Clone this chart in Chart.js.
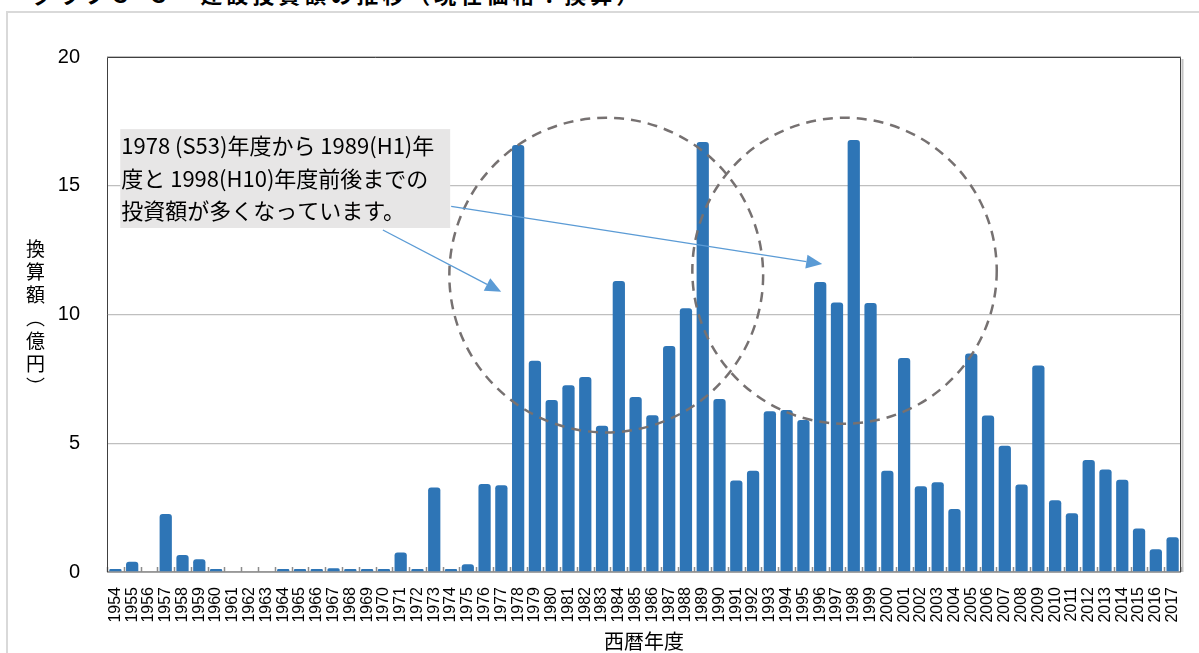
<!DOCTYPE html>
<html lang="ja">
<head>
<meta charset="utf-8">
<script src="https://cdn.jsdelivr.net/npm/chart.js@4.4.1/dist/chart.umd.min.js"></script>
<style>
    html, body { margin: 0; padding: 0; background: #fff; overflow: hidden; }
    body { width: 1199px; height: 653px; position: relative; }
    .frame { position: absolute; left: 6px; top: 11px; width: 1300px; height: 700px; border: 2px solid #d9d9d9; box-sizing: border-box; }
    .page-title { position: absolute; left: 32px; top: -23px; font: bold 22px "Noto Sans CJK JP", sans-serif; letter-spacing: 4px; color: #000; white-space: nowrap; }
    .y-title { position: absolute; left: 26px; top: 239px; writing-mode: vertical-rl; text-orientation: upright; font: 19px "Noto Sans CJK JP", sans-serif; color: #000; letter-spacing: 4px; line-height: 1; }
    #chart { position: absolute; left: 0; top: 0; }
</style>
</head>
<body>
<div class="page-title">グラフ３-３　建設投資額の推移（現在価格：換算）</div>
<div class="frame"></div>
<canvas id="chart" width="1199" height="653"></canvas>
<div class="y-title">換算額︵億円︶</div>

<script>
// 西暦年度
const years = [
    '1954', '1955', '1956', '1957', '1958', '1959', '1960', '1961', '1962', '1963',
    '1964', '1965', '1966', '1967', '1968', '1969', '1970', '1971', '1972', '1973',
    '1974', '1975', '1976', '1977', '1978', '1979', '1980', '1981', '1982', '1983',
    '1984', '1985', '1986', '1987', '1988', '1989', '1990', '1991', '1992', '1993',
    '1994', '1995', '1996', '1997', '1998', '1999', '2000', '2001', '2002', '2003',
    '2004', '2005', '2006', '2007', '2008', '2009', '2010', '2011', '2012', '2013',
    '2014', '2015', '2016', '2017'
];

// 換算額（億円）
const amounts = [
    0.12, 0.40, 0, 2.25, 0.66, 0.50, 0.12, 0, 0, 0,
    0.12, 0.12, 0.12, 0.15, 0.12, 0.12, 0.12, 0.76, 0.12, 3.28,
    0.12, 0.30, 3.42, 3.37, 16.58, 8.20, 6.68, 7.25, 7.57, 5.68,
    11.30, 6.80, 6.09, 8.78, 10.24, 16.70, 6.72, 3.55, 3.93, 6.24,
    6.29, 5.90, 11.26, 10.47, 16.78, 10.45, 3.93, 8.31, 3.33, 3.49,
    2.45, 8.49, 6.08, 4.90, 3.40, 8.02, 2.79, 2.28, 4.35, 3.98,
    3.58, 1.69, 0.88, 1.35
];

const yTicks = [0, 5, 10, 15, 20];

const noteLines = [
    '1978 (S53)年度から 1989(H1)年',
    '度と 1998(H10)年度前後までの',
    '投資額が多くなっています。'
];

// annotation geometry in chart units (category index, 億円)
const noteBox = { x0: 0.29, x1: 19.95, y0: 17.2, y1: 13.36 };
const rings = [
    { cx: 29.25, cy: 11.53, rx: 9.35, ry: 6.11 },
    { cx: 43.45, cy: 11.7, rx: 9.07, ry: 5.94 }
];
const arrows = [
    { from: [15.94, 13.28], to: [22.99, 10.88] },
    { from: [20.01, 14.2], to: [42.12, 11.96] }
];

const barBlue = '#2e75b6';
const arrowBlue = '#5b9bd5';

// plot frame, bottom axis and the small category ticks
const framePlugin = {
    id: 'frame',
    beforeDatasetsDraw(chart) {
        const { ctx, chartArea: a, scales: { x } } = chart;
        ctx.save();
        ctx.strokeStyle = '#8c8c8c';
        ctx.lineWidth = 1.5;
        ctx.beginPath();
        ctx.moveTo(a.left, a.bottom);
        ctx.lineTo(a.right, a.bottom);
        const half = (x.getPixelForValue(1) - x.getPixelForValue(0)) / 2;
        for (let i = 0; i <= years.length; i++) {
            const px = Math.round(x.getPixelForValue(i) - half) + 0.5;
            ctx.moveTo(px, a.bottom);
            ctx.lineTo(px, a.bottom - 5);
        }
        ctx.stroke();
        ctx.restore();
    },
    afterDatasetsDraw(chart) {
        const { ctx, chartArea: a } = chart;
        ctx.save();
        ctx.strokeStyle = '#c4c4c4';
        ctx.lineWidth = 2;
        ctx.beginPath();
        ctx.moveTo(a.right + 1.5, a.top + 2);
        ctx.lineTo(a.right + 1.5, a.bottom);
        ctx.stroke();
        ctx.strokeStyle = '#404040';
        ctx.lineWidth = 1;
        ctx.beginPath();
        ctx.moveTo(a.left + 0.5, a.bottom);
        ctx.lineTo(a.left + 0.5, a.top + 0.5);
        ctx.lineTo(a.right - 0.5, a.top + 0.5);
        ctx.lineTo(a.right - 0.5, a.bottom);
        ctx.stroke();
        ctx.restore();
    }
};

// dashed rings, callout box and arrows
const notePlugin = {
    id: 'note',
    afterDraw(chart) {
        const { ctx, scales: { x, y } } = chart;
        const unitX = x.getPixelForValue(1) - x.getPixelForValue(0);
        const unitY = y.getPixelForValue(0) - y.getPixelForValue(1);
        ctx.save();

        ctx.strokeStyle = '#767171';
        ctx.lineWidth = 2.5;
        ctx.setLineDash([10, 7]);
        rings.forEach(r => {
            ctx.beginPath();
            ctx.ellipse(x.getPixelForValue(r.cx), y.getPixelForValue(r.cy), r.rx * unitX, r.ry * unitY, 0, 0, Math.PI * 2);
            ctx.stroke();
        });
        ctx.setLineDash([]);

        const bx0 = x.getPixelForValue(noteBox.x0), bx1 = x.getPixelForValue(noteBox.x1);
        const by0 = y.getPixelForValue(noteBox.y0), by1 = y.getPixelForValue(noteBox.y1);
        ctx.fillStyle = '#e7e6e6';
        ctx.fillRect(bx0, by0, bx1 - bx0, by1 - by0);
        ctx.fillStyle = '#000';
        ctx.font = '22px "Noto Sans CJK JP"';
        ctx.textBaseline = 'middle';
        ctx.textAlign = 'left';
        noteLines.forEach((line, i) => {
            ctx.fillText(line, bx0 + 1, by0 + 17 + i * 32.5);
        });

        ctx.strokeStyle = arrowBlue;
        ctx.fillStyle = arrowBlue;
        ctx.lineWidth = 1.3;
        arrows.forEach(ar => {
            const x0 = x.getPixelForValue(ar.from[0]), y0 = y.getPixelForValue(ar.from[1]);
            const x1 = x.getPixelForValue(ar.to[0]), y1 = y.getPixelForValue(ar.to[1]);
            const ang = Math.atan2(y1 - y0, x1 - x0);
            const len = 16, wid = 7;
            const bxp = x1 - Math.cos(ang) * len, byp = y1 - Math.sin(ang) * len;
            ctx.beginPath();
            ctx.moveTo(x0, y0);
            ctx.lineTo(bxp, byp);
            ctx.stroke();
            ctx.beginPath();
            ctx.moveTo(x1, y1);
            ctx.lineTo(bxp + Math.sin(ang) * wid, byp - Math.cos(ang) * wid);
            ctx.lineTo(bxp - Math.sin(ang) * wid, byp + Math.cos(ang) * wid);
            ctx.closePath();
            ctx.fill();
        });
        ctx.restore();
    }
};

new Chart(document.getElementById('chart'), {
    type: 'bar',
    data: {
        labels: years,
        datasets: [{
            label: '換算額',
            data: amounts,
            backgroundColor: barBlue,
            borderRadius: { topLeft: 3, topRight: 3 },
            borderSkipped: 'bottom',
            barPercentage: 0.73,
            categoryPercentage: 1.0
        }]
    },
    options: {
        responsive: false,
        animation: false,
        devicePixelRatio: 1,
        layout: { padding: { top: 57, right: 18, left: 0, bottom: 0 } },
        plugins: {
            legend: { display: false },
            tooltip: { enabled: false }
        },
        scales: {
            x: {
                grid: { display: false, drawTicks: false },
                border: { display: false },
                ticks: {
                    autoSkip: false,
                    minRotation: 90,
                    maxRotation: 90,
                    padding: 15,
                    color: '#000',
                    font: { family: '"Liberation Sans", Arial, sans-serif', size: 16 }
                },
                title: {
                    display: true,
                    text: '西暦年度',
                    color: '#000',
                    padding: 0,
                    font: { family: '"Noto Sans CJK JP", sans-serif', size: 20, lineHeight: 1.2 }
                },
                afterFit: s => {
                    s.height = 81;
                    s.paddingLeft = 0;
                    s.paddingRight = 0;
                }
            },
            y: {
                min: 0,
                max: 20,
                afterBuildTicks: s => { s.ticks = yTicks.map(v => ({ value: v })); },
                grid: { color: '#bfbfbf', lineWidth: 1.3, drawTicks: false },
                border: { display: false },
                ticks: {
                    padding: 27,
                    color: '#000',
                    font: { family: '"Liberation Sans", Arial, sans-serif', size: 20 }
                },
                afterFit: s => { s.width = 107; }
            }
        }
    },
    plugins: [framePlugin, notePlugin]
});
</script>
</body>
</html>
